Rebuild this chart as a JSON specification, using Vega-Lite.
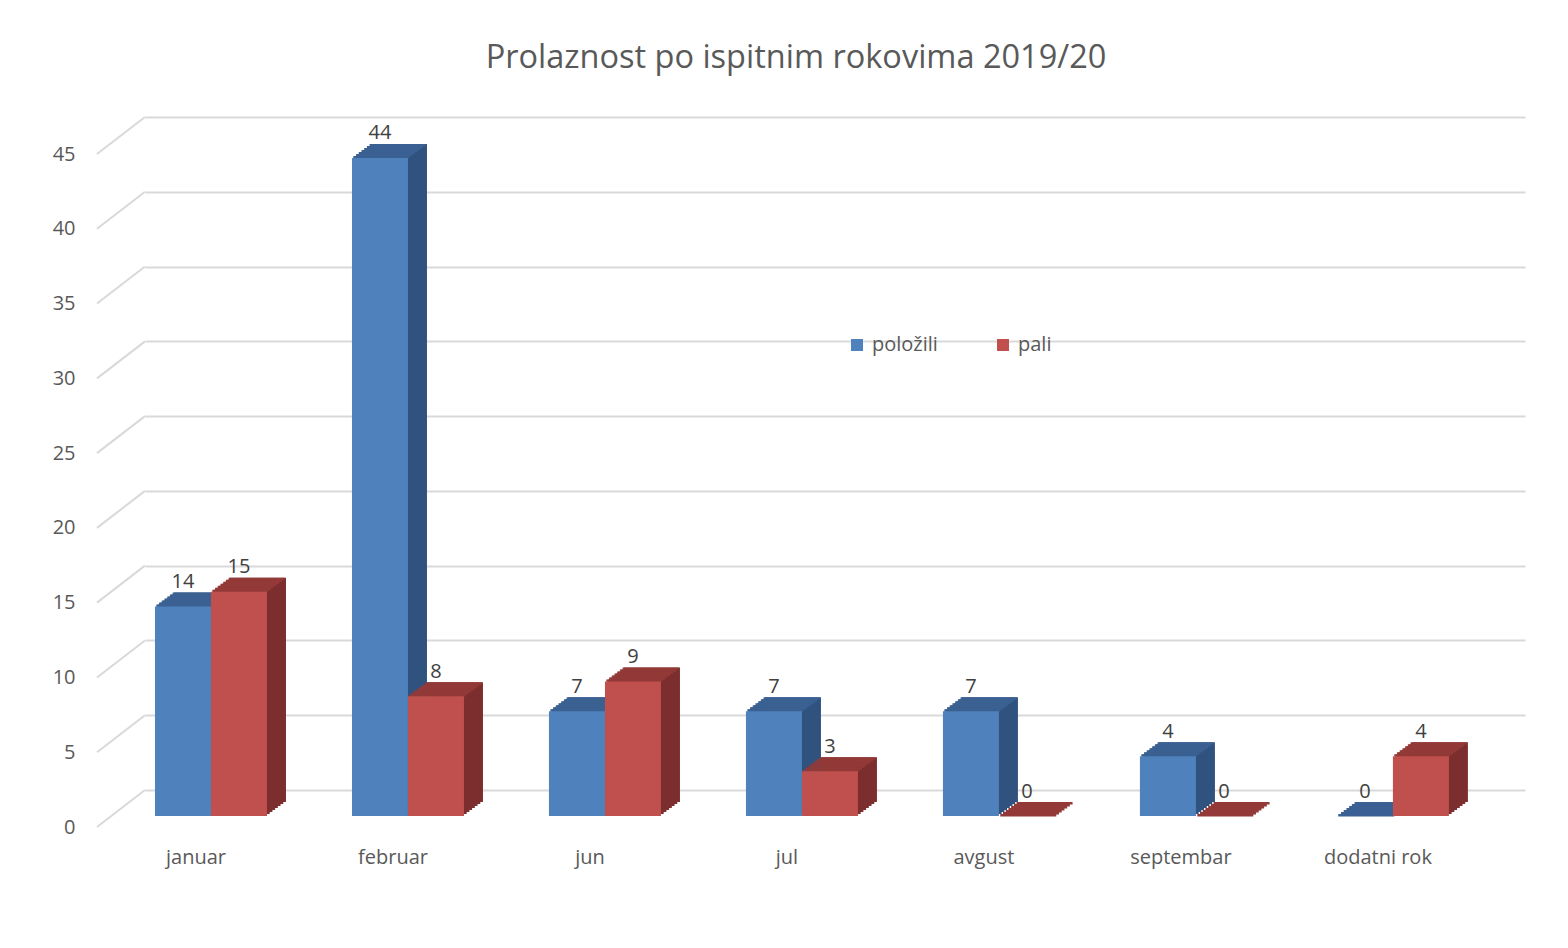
{
  "$schema": "https://vega.github.io/schema/vega-lite/v6.json",
  "width": 1380,
  "height": 673,
  "autosize": {"type": "none"},
  "padding": {"left": 145, "top": 117, "right": 43, "bottom": 158},
  "background": "white",
  "config": {"view": {"stroke": null}, "font": "Open Sans"},
  "title": {"text": "Prolaznost po ispitnim rokovima 2019/20", "fontSize": 32.5, "font": "Open Sans", "fontWeight": "normal", "color": "#595959", "anchor": "middle", "frame": "group", "dx": -39, "offset": 42},
  "data": {"values": [
    {"month": "januar", "series": "položili", "value": 14},
    {"month": "januar", "series": "pali", "value": 15},
    {"month": "februar", "series": "položili", "value": 44},
    {"month": "februar", "series": "pali", "value": 8},
    {"month": "jun", "series": "položili", "value": 7},
    {"month": "jun", "series": "pali", "value": 9},
    {"month": "jul", "series": "položili", "value": 7},
    {"month": "jul", "series": "pali", "value": 3},
    {"month": "avgust", "series": "položili", "value": 7},
    {"month": "avgust", "series": "pali", "value": 0},
    {"month": "septembar", "series": "položili", "value": 4},
    {"month": "septembar", "series": "pali", "value": 0},
    {"month": "dodatni rok", "series": "položili", "value": 0},
    {"month": "dodatni rok", "series": "pali", "value": 4}
  ]},
  "encoding": {
    "x": {"field": "month", "type": "nominal",
      "scale": {"domain": ["januar", "februar", "jun", "jul", "avgust", "septembar", "dodatni rok"], "paddingInner": 0.4315, "paddingOuter": 0.2185, "align": 0.116},
      "axis": {"title": null, "domain": false, "ticks": false, "tickSize": 0, "labelAngle": 0, "labelOffset": -15, "labelPadding": 57, "labelBaseline": "top", "labelFontSize": 20, "labelColor": "#595959", "labelFont": "Open Sans", "grid": false}},
    "y": {"field": "value", "type": "quantitative",
      "scale": {"domain": [0, 45], "nice": false},
      "axis": {"title": null, "values": [0, 5, 10, 15, 20, 25, 30, 35, 40, 45], "domain": false, "ticks": false, "tickSize": 0, "labelPadding": 70, "labelOffset": 37, "labelFontSize": 20, "labelColor": "#595959", "labelFont": "Open Sans", "labelBaseline": "middle", "grid": true, "gridColor": "#d9d9d9", "gridWidth": 2}}
  },
  "layer": [
    {"data": {"values": [{"value": 0}, {"value": 5}, {"value": 10}, {"value": 15}, {"value": 20}, {"value": 25}, {"value": 30}, {"value": 35}, {"value": 40}, {"value": 45}]},
     "mark": {"type": "rule", "xOffset": -48, "yOffset": 37, "x2Offset": 0, "y2Offset": 0, "stroke": "#d9d9d9", "strokeWidth": 2},
     "encoding": {"x": {"value": 0}, "x2": {"value": 0}, "y2": {"field": "value"}}},

    {"mark": {"type": "bar", "yOffset": 24, "y2Offset": 24}, "encoding": {"xOffset": {"field": "series", "scale": {"domain": ["položili", "pali"], "range": [2.714, 114.714], "paddingInner": 0, "paddingOuter": 0}}, "y2": {"datum": 0}, "fill": {"condition": {"test": "datum.series === 'pali'", "value": "#7B2E2D"}, "value": "#30527E"}}},
    {"mark": {"type": "bar", "yOffset": 22, "y2Offset": 22}, "encoding": {"xOffset": {"field": "series", "scale": {"domain": ["položili", "pali"], "range": [5.429, 117.429], "paddingInner": 0, "paddingOuter": 0}}, "y2": {"datum": 0}, "fill": {"condition": {"test": "datum.series === 'pali'", "value": "#7B2E2D"}, "value": "#30527E"}}},
    {"mark": {"type": "bar", "yOffset": 20, "y2Offset": 20}, "encoding": {"xOffset": {"field": "series", "scale": {"domain": ["položili", "pali"], "range": [8.143, 120.143], "paddingInner": 0, "paddingOuter": 0}}, "y2": {"datum": 0}, "fill": {"condition": {"test": "datum.series === 'pali'", "value": "#7B2E2D"}, "value": "#30527E"}}},
    {"mark": {"type": "bar", "yOffset": 18, "y2Offset": 18}, "encoding": {"xOffset": {"field": "series", "scale": {"domain": ["položili", "pali"], "range": [10.857, 122.857], "paddingInner": 0, "paddingOuter": 0}}, "y2": {"datum": 0}, "fill": {"condition": {"test": "datum.series === 'pali'", "value": "#7B2E2D"}, "value": "#30527E"}}},
    {"mark": {"type": "bar", "yOffset": 16, "y2Offset": 16}, "encoding": {"xOffset": {"field": "series", "scale": {"domain": ["položili", "pali"], "range": [13.571, 125.571], "paddingInner": 0, "paddingOuter": 0}}, "y2": {"datum": 0}, "fill": {"condition": {"test": "datum.series === 'pali'", "value": "#7B2E2D"}, "value": "#30527E"}}},
    {"mark": {"type": "bar", "yOffset": 14, "y2Offset": 14}, "encoding": {"xOffset": {"field": "series", "scale": {"domain": ["položili", "pali"], "range": [16.286, 128.286], "paddingInner": 0, "paddingOuter": 0}}, "y2": {"datum": 0}, "fill": {"condition": {"test": "datum.series === 'pali'", "value": "#7B2E2D"}, "value": "#30527E"}}},
    {"mark": {"type": "bar", "yOffset": 12, "y2Offset": 12}, "encoding": {"xOffset": {"field": "series", "scale": {"domain": ["položili", "pali"], "range": [19, 131], "paddingInner": 0, "paddingOuter": 0}}, "y2": {"datum": 0}, "fill": {"condition": {"test": "datum.series === 'pali'", "value": "#7B2E2D"}, "value": "#30527E"}}},

    {"mark": {"type": "bar", "yOffset": 24, "y2Offset": 26.4}, "encoding": {"xOffset": {"field": "series", "scale": {"domain": ["položili", "pali"], "range": [1.357, 113.357], "paddingInner": 0, "paddingOuter": 0}}, "y2": {"field": "value"}, "fill": {"condition": {"test": "datum.series === 'pali'", "value": "#933A38"}, "value": "#3B6193"}}},
    {"mark": {"type": "bar", "yOffset": 22, "y2Offset": 24.4}, "encoding": {"xOffset": {"field": "series", "scale": {"domain": ["položili", "pali"], "range": [4.071, 116.071], "paddingInner": 0, "paddingOuter": 0}}, "y2": {"field": "value"}, "fill": {"condition": {"test": "datum.series === 'pali'", "value": "#933A38"}, "value": "#3B6193"}}},
    {"mark": {"type": "bar", "yOffset": 20, "y2Offset": 22.4}, "encoding": {"xOffset": {"field": "series", "scale": {"domain": ["položili", "pali"], "range": [6.786, 118.786], "paddingInner": 0, "paddingOuter": 0}}, "y2": {"field": "value"}, "fill": {"condition": {"test": "datum.series === 'pali'", "value": "#933A38"}, "value": "#3B6193"}}},
    {"mark": {"type": "bar", "yOffset": 18, "y2Offset": 20.4}, "encoding": {"xOffset": {"field": "series", "scale": {"domain": ["položili", "pali"], "range": [9.5, 121.5], "paddingInner": 0, "paddingOuter": 0}}, "y2": {"field": "value"}, "fill": {"condition": {"test": "datum.series === 'pali'", "value": "#933A38"}, "value": "#3B6193"}}},
    {"mark": {"type": "bar", "yOffset": 16, "y2Offset": 18.4}, "encoding": {"xOffset": {"field": "series", "scale": {"domain": ["položili", "pali"], "range": [12.214, 124.214], "paddingInner": 0, "paddingOuter": 0}}, "y2": {"field": "value"}, "fill": {"condition": {"test": "datum.series === 'pali'", "value": "#933A38"}, "value": "#3B6193"}}},
    {"mark": {"type": "bar", "yOffset": 14, "y2Offset": 16.4}, "encoding": {"xOffset": {"field": "series", "scale": {"domain": ["položili", "pali"], "range": [14.929, 126.929], "paddingInner": 0, "paddingOuter": 0}}, "y2": {"field": "value"}, "fill": {"condition": {"test": "datum.series === 'pali'", "value": "#933A38"}, "value": "#3B6193"}}},
    {"mark": {"type": "bar", "yOffset": 12, "y2Offset": 14.4}, "encoding": {"xOffset": {"field": "series", "scale": {"domain": ["položili", "pali"], "range": [17.643, 129.643], "paddingInner": 0, "paddingOuter": 0}}, "y2": {"field": "value"}, "fill": {"condition": {"test": "datum.series === 'pali'", "value": "#933A38"}, "value": "#3B6193"}}},

    {"mark": {"type": "bar", "yOffset": 26, "y2Offset": 26},
     "encoding": {
       "xOffset": {"field": "series", "scale": {"domain": ["položili", "pali"], "range": [0, 112], "paddingInner": 0, "paddingOuter": 0}},
       "y2": {"datum": 0},
       "color": {"field": "series", "type": "nominal", "scale": {"domain": ["položili", "pali"], "range": ["#4F81BD", "#C0504D"]},
         "legend": {"title": null, "orient": "none", "legendX": 702, "legendY": 218, "direction": "horizontal", "symbolType": "square", "symbolSize": 144, "symbolStrokeWidth": 0, "symbolOpacity": 1, "labelFontSize": 20, "labelFont": "Open Sans", "labelColor": "#595959", "labelOffset": 5, "columnPadding": 55, "padding": 0}}
     }},

    {"mark": {"type": "text", "yOffset": 7.5, "baseline": "alphabetic", "align": "center", "fontSize": 20, "font": "Open Sans", "color": "#404040"},
     "encoding": {
       "xOffset": {"field": "series", "scale": {"domain": ["položili", "pali"], "range": [28, 84], "paddingInner": 0, "paddingOuter": 0}},
       "text": {"field": "value", "type": "quantitative"}
     }}
  ],
  "resolve": {"scale": {"xOffset": "independent"}}
}
